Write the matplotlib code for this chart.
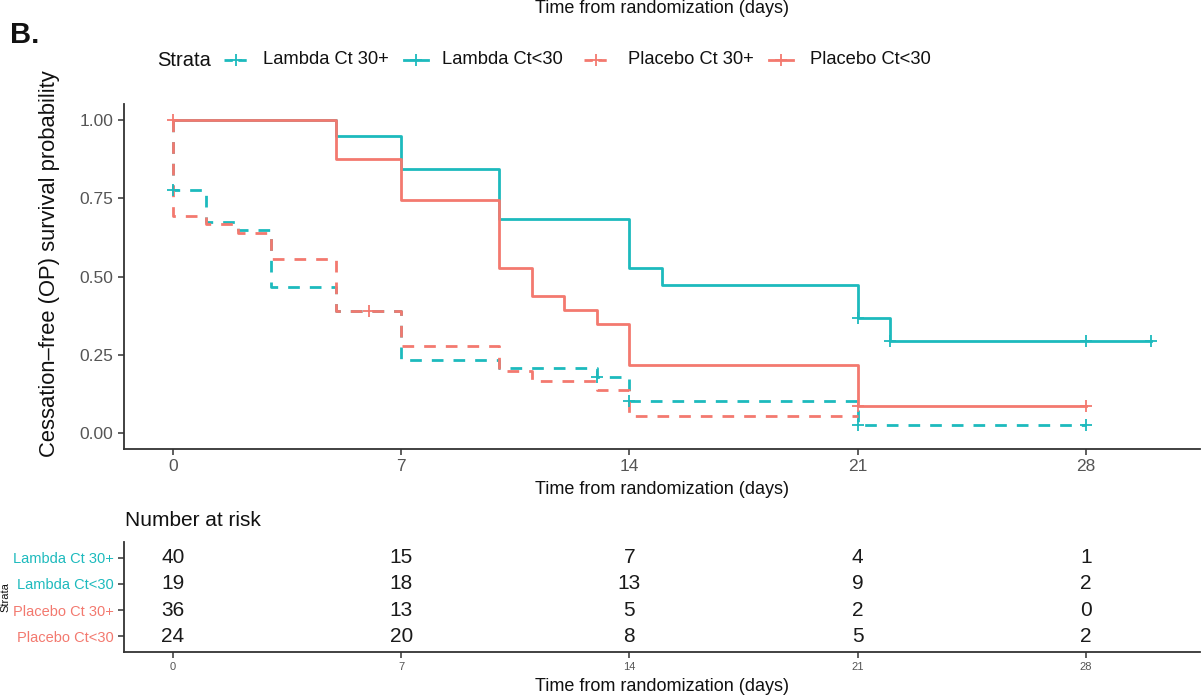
import matplotlib
matplotlib.use("Agg")
import matplotlib.pyplot as plt
from matplotlib.lines import Line2D

plt.rcParams['font.family'] = ['Liberation Sans', 'DejaVu Sans']

W, H = 1203, 698

# ---------------- data ----------------
strata = ["Lambda Ct 30+", "Lambda Ct<30", "Placebo Ct 30+", "Placebo Ct<30"]
colors = ["#1DBABD", "#1DBABD", "#F3796F", "#F3796F"]
styles = ["dashed", "solid", "dashed", "solid"]

lam30p_t = [0, 0, 1, 2, 3, 5, 7, 10, 13, 14, 21, 28]
lam30p_s = [1.0, 0.775, 0.675, 0.648, 0.465, 0.390, 0.233, 0.207, 0.181, 0.104, 0.026, 0.026]
lam30m_t = [0, 5, 7, 10, 14, 15, 21, 22, 30]
lam30m_s = [1.0, 0.947, 0.842, 0.684, 0.526, 0.474, 0.368, 0.295, 0.295]
pla30p_t = [0, 0, 1, 2, 3, 5, 7, 10, 11, 13, 14, 21]
pla30p_s = [1.0, 0.694, 0.667, 0.639, 0.555, 0.389, 0.278, 0.200, 0.167, 0.139, 0.056, 0.056]
pla30m_t = [0, 5, 7, 10, 11, 12, 13, 14, 21, 28]
pla30m_s = [1.0, 0.875, 0.744, 0.527, 0.438, 0.393, 0.348, 0.217, 0.087, 0.087]

# censor marks
lam30p_ct = [0, 13, 14, 21, 28]
lam30p_cs = [0.775, 0.181, 0.104, 0.026, 0.026]
lam30m_ct = [21, 22, 28, 30]
lam30m_cs = [0.368, 0.295, 0.295, 0.295]
pla30p_ct = [6]
pla30p_cs = [0.389]
pla30m_ct = [0, 21, 28]
pla30m_cs = [1.0, 0.087, 0.087]

curves_t = [lam30p_t, lam30m_t, pla30p_t, pla30m_t]
curves_s = [lam30p_s, lam30m_s, pla30p_s, pla30m_s]
cens_t = [lam30p_ct, lam30m_ct, pla30p_ct, pla30m_ct]
cens_s = [lam30p_cs, lam30m_cs, pla30p_cs, pla30m_cs]

risk_times = [0, 7, 14, 21, 28]
risk_lam30p = [40, 15, 7, 4, 1]
risk_lam30m = [19, 18, 13, 9, 2]
risk_pla30p = [36, 13, 5, 2, 0]
risk_pla30m = [24, 20, 8, 5, 2]
risk_rows = [risk_lam30p, risk_lam30m, risk_pla30p, risk_pla30m]

xticks = [0, 7, 14, 21, 28]
yticks = [0.0, 0.25, 0.5, 0.75, 1.0]
yticklabels = ["0.00", "0.25", "0.50", "0.75", "1.00"]

xlabel = "Time from randomization (days)"
ylabel = "Cessation\u2013free (OP) survival probability"

# ---------------- figure ----------------
fig = plt.figure(figsize=(W / 100, H / 100), dpi=100)
fig.patch.set_facecolor("white")

axis_col = "#333333"
tick_col = "#555555"

def style_axes(a):
    for s in ["top", "right"]:
        a.spines[s].set_visible(False)
    for s in ["left", "bottom"]:
        a.spines[s].set_color(axis_col)
        a.spines[s].set_linewidth(1.3)
    a.tick_params(colors=axis_col, length=4, width=1.1)

ax = fig.add_axes([124 / W, 1 - 449 / H, (1200 - 124) / W, (449 - 104) / H])
style_axes(ax)
for t, s, c, ls in zip(curves_t, curves_s, colors, styles):
    if ls == "dashed":
        ax.step(t, s, where="post", color=c, lw=2.0, linestyle=(0, (4.2, 3.6)))
    else:
        ax.step(t, s, where="post", color=c, lw=2.0, linestyle="solid")
for ct, cs, c in zip(cens_t, cens_s, colors):
    ax.plot(ct, cs, linestyle="none", marker="+", ms=9, mew=1.3, color=c)

ax.set_xlim(-1.5, 31.5)
ax.set_ylim(-0.05, 1.05)
ax.set_xticks(xticks)
ax.set_xticklabels([str(v) for v in xticks], fontsize=12.5, color=tick_col)
ax.set_yticks(yticks)
ax.set_yticklabels(yticklabels, fontsize=12.5, color=tick_col)
ax.set_xlabel(xlabel, fontsize=13, color="#111111", labelpad=5)
fig.text(50 / W, 1 - 264 / H, ylabel, rotation=90, fontsize=15.8,
         ha="center", va="center", color="#111111")

# ---------------- legend ----------------
ly = 1 - 60 / H
fig.text(157 / W, ly, "Strata", fontsize=14.5, ha="left", va="center", color="#111111")
key_centers = [236, 416, 596, 781]
text_lefts = [263, 442, 628, 810]
for name, c, ls, kc, tl in zip(strata, colors, styles, key_centers, text_lefts):
    lstyle = (0, (3.0, 2.0)) if ls == "dashed" else "solid"
    fig.add_artist(Line2D([(kc - 12) / W, (kc + 12) / W], [ly, ly],
                          transform=fig.transFigure, color=c, lw=2.0, linestyle=lstyle))
    fig.add_artist(Line2D([kc / W], [ly], transform=fig.transFigure, color=c,
                          marker="+", ms=9, mew=1.3, linestyle="none"))
    fig.text(tl / W, ly, name, fontsize=13.2, ha="left", va="center", color="#111111")

# ---------------- panel tag and clipped title ----------------
fig.text(10 / W, 1 - 43 / H, "B.", fontsize=21, fontweight="bold", ha="left",
         va="baseline", color="#111111")
fig.text(662 / W, 1 - 13 / H, xlabel, fontsize=13, ha="center", va="baseline",
         color="#111111")

# ---------------- risk table ----------------
fig.text(125 / W, 1 - 520 / H, "Number at risk", fontsize=15, ha="left",
         va="center", color="#111111")
tx = fig.add_axes([124 / W, 1 - 652 / H, (1200 - 124) / W, (652 - 542) / H])
style_axes(tx)
tx.set_xlim(-1.5, 31.5)
tx.set_ylim(0.4, 4.6)
ypos = [4, 3, 2, 1]
for row, yp in zip(risk_rows, ypos):
    for t, n in zip(risk_times, row):
        tx.text(t, yp, str(n), fontsize=15, ha="center", va="center", color="#1a1a1a")
tx.set_yticks(ypos)
tx.set_yticklabels(strata, fontsize=10.5)
for lab, c in zip(tx.get_yticklabels(), colors):
    lab.set_color(c)
tx.set_xticks(xticks)
tx.set_xticklabels([str(v) for v in xticks], fontsize=8, color=tick_col)
tx.set_xlabel(xlabel, fontsize=13, color="#111111", labelpad=4)
fig.text(5 / W, 1 - 597 / H, "Strata", rotation=90, fontsize=8, ha="center",
         va="center", color="#111111")

fig.savefig("out.png", dpi=100, facecolor="white")
